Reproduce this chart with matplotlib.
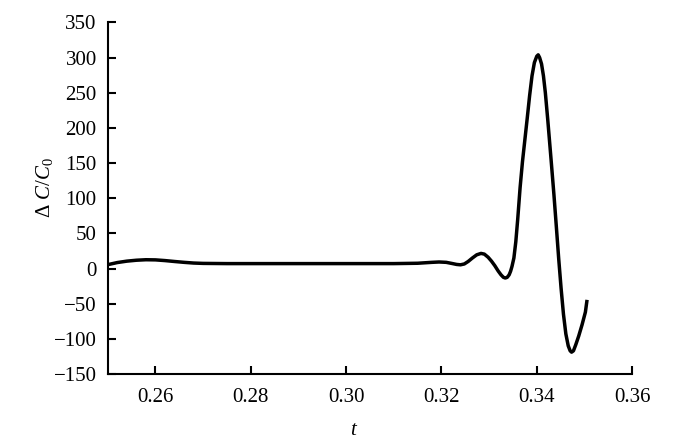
import numpy as np
import matplotlib.pyplot as plt

plt.rcParams['font.family'] = ['Liberation Serif', 'DejaVu Serif']
plt.rcParams['mathtext.fontset'] = 'custom'
plt.rcParams['mathtext.rm'] = 'Liberation Serif'
plt.rcParams['mathtext.it'] = 'Liberation Serif:italic'

# values
t = [0.2500, 0.2520, 0.2540, 0.2560, 0.2580, 0.2600, 0.2620, 0.2640, 0.2660,
     0.2680, 0.2700, 0.2750, 0.2800, 0.2900, 0.3000, 0.3100, 0.3150, 0.3180,
     0.3195, 0.3210, 0.3222, 0.3232, 0.3240, 0.3248, 0.3256, 0.3265, 0.3274,
     0.3283, 0.3290, 0.3298, 0.3305, 0.3312, 0.3319, 0.3325, 0.3330, 0.3334,
     0.3338, 0.3342, 0.3345, 0.3348, 0.3352, 0.3356, 0.3360, 0.3365, 0.3370,
     0.3375, 0.3380, 0.3385, 0.3390, 0.3395, 0.3400, 0.3403, 0.3406, 0.3410,
     0.3414, 0.3418, 0.3423, 0.3430, 0.3436, 0.3441, 0.3446, 0.3451, 0.3456,
     0.3461, 0.3466, 0.3470, 0.3473, 0.3477, 0.3482, 0.3488, 0.3495, 0.3502,
     0.3505]
dc = [5.5, 8.5, 10.5, 11.8, 12.5, 12.3, 11.3, 10.0, 8.8,
      7.8, 7.3, 7.0, 7.0, 7.0, 7.0, 7.0, 7.5, 8.8,
      9.3, 8.8, 7.2, 5.8, 5.3, 6.5, 10.0, 15.0, 19.5,
      21.5, 20.5, 16.0, 10.5, 4.0, -3.5, -9.0, -12.5, -13.5,
      -12.5, -9.0, -4.0, 3.0, 15.0, 38.0, 70.0, 115.0, 152.0,
      183.0, 214.0, 246.0, 274.0, 293.0, 302.0, 304.0, 300.0, 291.0,
      274.0, 250.0, 212.0, 155.0, 105.0, 60.0, 14.0, -28.0, -65.0,
      -93.0, -110.0, -117.0, -119.0, -117.0, -108.0, -96.0, -80.0, -62.0,
      -47.0]

xticks = [0.26, 0.28, 0.30, 0.32, 0.34, 0.36]
yticks = list(range(-150, 351, 50))

fig = plt.figure(figsize=(7, 4.41), dpi=100)
ax = fig.add_axes([0.154, 0.152, 0.749, 0.797])

ax.plot(t, dc, color='black', lw=2.5, solid_joinstyle='round')

ax.set_xlim(0.25, 0.36)
ax.set_ylim(-150, 350)
ax.set_xticks(xticks)
ax.set_xticklabels([f'{v:.2f}' for v in xticks])
ax.set_yticks(yticks)
ax.set_yticklabels([str(v).replace('-', '\u2212') for v in yticks])

ax.spines['top'].set_visible(False)
ax.spines['right'].set_visible(False)
ax.spines['left'].set_linewidth(1.5)
ax.spines['bottom'].set_linewidth(1.5)
ax.tick_params(direction='in', length=6, width=1.5, labelsize=15)
ax.tick_params(axis='x', pad=10)
ax.tick_params(axis='y', pad=8)

ax.set_xlabel('$t$', fontsize=15)
ax.set_ylabel(r'$\Delta\ C/C_0$', fontsize=15)
ax.xaxis.set_label_coords(0.47, -0.135)
ax.yaxis.set_label_coords(-0.1, 0.53)

fig.savefig('out.png', dpi=100)
